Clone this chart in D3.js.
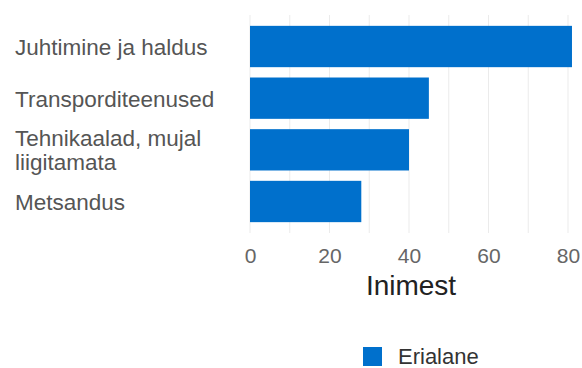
<!DOCTYPE html>
<html>
<head>
<meta charset="utf-8">
<script src="https://cdn.jsdelivr.net/npm/d3@7"></script>
<style>
  body { margin: 0; background: #fff; }
  text { font-family: "Liberation Sans", Arial, sans-serif; }
</style>
</head>
<body>
<div id="chart"></div>
<script>
// Data
const categories = ["Juhtimine ja haldus", "Transporditeenused", "Tehnikaalad, mujal liigitamata", "Metsandus"];
const labelLines = [["Juhtimine ja haldus"], ["Transporditeenused"], ["Tehnikaalad, mujal", "liigitamata"], ["Metsandus"]];
const values = [81, 45, 40, 28];
const xTicks = [0, 20, 40, 60, 80];
const seriesName = "Erialane";
const axisTitle = "Inimest";

const width = 582, height = 368;
const barColor = "#0070cc";

const svg = d3.select("#chart")
  .append("svg")
  .attr("width", width)
  .attr("height", height);

const x = d3.scaleLinear().domain([0, 80]).range([250, 568]);
const y = d3.scaleBand().domain(categories).range([15, 233])
  .paddingInner(0.2).paddingOuter(0.21);

// Grid lines every 10
svg.append("g")
  .selectAll("line")
  .data(d3.range(0, 81, 10))
  .join("line")
  .attr("x1", d => x(d)).attr("x2", d => x(d))
  .attr("y1", 15).attr("y2", 233)
  .attr("stroke", "#ebebeb")
  .attr("stroke-width", 1);

// Bars
svg.append("g")
  .selectAll("rect")
  .data(values)
  .join("rect")
  .attr("x", x(0))
  .attr("y", (d, i) => y(categories[i]))
  .attr("width", d => x(d) - x(0))
  .attr("height", y.bandwidth())
  .attr("fill", barColor);

// Category labels
const lbl = svg.append("g")
  .selectAll("text")
  .data(labelLines)
  .join("text")
  .attr("x", 15)
  .attr("y", (d, i) => y(categories[i]) + y.bandwidth() / 2)
  .attr("fill", "#555")
  .attr("font-size", 22.5);
lbl.each(function(lines) {
  const t = d3.select(this);
  const lh = 24;
  const off = -(lines.length - 1) * lh / 2;
  lines.forEach((l, j) => {
    t.append("tspan")
      .attr("x", 15)
      .attr("dy", j === 0 ? off + 8.5 : lh)
      .text(l);
  });
});

// X axis tick labels
const xAxis = d3.axisBottom(x).tickValues(xTicks).tickSize(0).tickPadding(0);
const gx = svg.append("g").attr("transform", "translate(0,248)").call(xAxis);
gx.select(".domain").remove();
gx.selectAll("text")
  .attr("font-family", "Liberation Sans, Arial, sans-serif")
  .attr("font-size", 21)
  .attr("fill", "#666");

// Axis title
svg.append("text")
  .attr("x", 411)
  .attr("y", 295)
  .attr("text-anchor", "middle")
  .attr("font-size", 28)
  .attr("fill", "#222")
  .text(axisTitle);

// Legend
svg.append("rect")
  .attr("x", 363).attr("y", 347)
  .attr("width", 19).attr("height", 19)
  .attr("fill", barColor);
svg.append("text")
  .attr("x", 398).attr("y", 364)
  .attr("font-size", 22)
  .attr("fill", "#333")
  .text(seriesName);
</script>
</body>
</html>
